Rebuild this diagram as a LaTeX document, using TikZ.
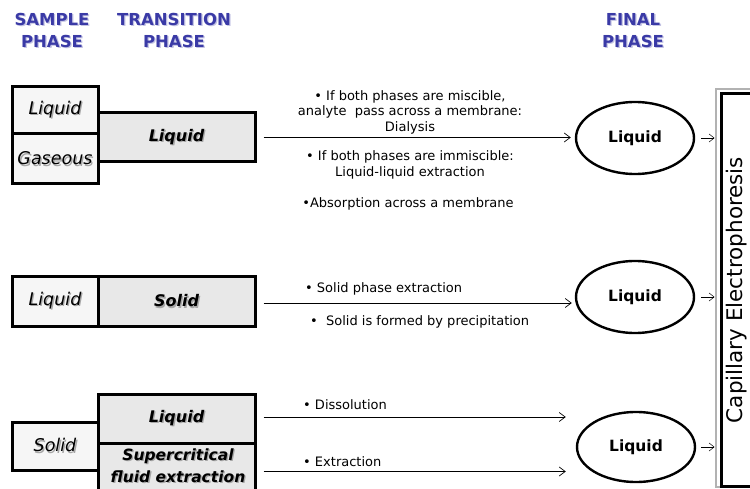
\documentclass[tikz,border=0pt]{standalone}
\usepackage{fontspec}
\setmainfont{DejaVu Sans}
\usetikzlibrary{arrows.meta,shapes.geometric}
\definecolor{headblue}{HTML}{3A3AA6}
\definecolor{samplefill}{HTML}{F6F6F6}
\definecolor{transfill}{HTML}{E8E8E8}
% text with a soft dropped shadow
\newcommand\shadowed[2][black!35]{\leavevmode\rlap{\raisebox{-1.3pt}{\hspace{1.3pt}\textcolor{#1}{#2}}}#2}
\tikzset{
  header/.style={text=headblue, font=\fontsize{16.5}{22}\selectfont\bfseries, align=center},
  samplebox/.style={draw, line width=3pt, fill=samplefill, minimum width=86pt, inner sep=0pt,
    font=\fontsize{17.5}{18}\selectfont\itshape},
  transbox/.style={draw, line width=3pt, fill=transfill, minimum width=157pt, inner sep=0pt,
    font=\fontsize{16}{18}\selectfont\bfseries\itshape},
  final/.style={ellipse, draw, line width=2.4pt, minimum width=118pt, minimum height=72pt, inner sep=0pt,
    font=\fontsize{15.5}{18}\selectfont\bfseries},
  note/.style={font=\fontsize{13}{15.5}\selectfont, align=center, inner sep=0pt},
  link/.style={-{Straight Barb[length=6pt,width=9pt]}, line width=0.7pt},
  feed/.style={-{Straight Barb[length=5pt,width=8pt]}, line width=0.5pt}
}
\begin{document}
\begin{tikzpicture}[x=1pt,y=-1pt]
\useasboundingbox (0,0) rectangle (750,489);
\fill[white] (0,0) rectangle (750,489);

% column headers
\node[header] (hsample) at (52,31) {\shadowed[headblue!30]{SAMPLE}\\\shadowed[headblue!30]{PHASE}};
\node[header] (htrans) at (174,31) {\shadowed[headblue!30]{TRANSITION}\\\shadowed[headblue!30]{PHASE}};
\node[header] (hfinal) at (633,31) {\shadowed[headblue!30]{FINAL}\\\shadowed[headblue!30]{PHASE}};

% first row: liquid / gaseous samples
\node[samplebox, minimum height=48pt] (s1a) at (55,110.5) {\shadowed{Liquid}};
\node[samplebox, minimum height=50pt] (s1b) at (55,159) {\shadowed{Gaseous}};
\node[transbox, minimum height=49pt] (t1) at (176.5,137.5) {\shadowed{Liquid}};
\node[final] (f1) at (635,138) {Liquid};

% second row: liquid sample
\node[samplebox, minimum height=49pt] (s2) at (55,301.5) {\shadowed{Liquid}};
\node[transbox, minimum height=49pt] (t2) at (176.5,301.5) {\shadowed{Solid}};
\node[final] (f2) at (635,297) {Liquid};

% third row: solid sample
\node[samplebox, minimum height=48pt] (s3) at (55,446) {\shadowed{Solid}};
\node[transbox, minimum height=49pt] (t3a) at (176.5,418.5) {\shadowed{Liquid}};
\node[transbox, minimum height=57pt] (t3b) at (176.5,471.5) {};
\node[font=\fontsize{15.5}{22}\selectfont\bfseries\itshape, align=center, inner sep=0pt]
  (t3blabel) at (178,466) {\shadowed{Supercritical}\\\shadowed{fluid extraction}};
\node[final, minimum height=70pt] (f3) at (636,447) {Liquid};

% capillary electrophoresis column
\node[draw=black!30, line width=1.2pt, minimum width=44pt, minimum height=398pt, inner sep=0pt]
  (ceframe) at (738,288) {};
\node[draw, line width=3pt, minimum width=38pt, minimum height=392pt, inner sep=0pt]
  (ce) at (740,290) {};
\node[rotate=90, font=\fontsize{21.5}{24}\selectfont] (celabel) at (737,290) {Capillary Electrophoresis};

% connectors into the final phase
\draw[link, shorten <=7pt, shorten >=4pt] (t1.east) -- (t1.east -| f1.west);
\draw[link, shorten <=7pt, shorten >=3pt] (t2.east) ++(0,1.5) coordinate (t2out) -- (t2out -| f2.west);
\draw[link, shorten <=7pt, shorten >=10pt] (t3a.east) ++(0,-1.5) coordinate (t3aout) -- (t3aout -| f3.west);
\draw[link, shorten <=7pt, shorten >=10pt] (t3b.east) -- (t3b.east -| f3.west);

% connectors into the column
\draw[feed, shorten <=6pt, shorten >=5pt] (f1.east) -- (f1.east -| ce.west);
\draw[feed, shorten <=6pt, shorten >=5pt] (f2.east) -- (f2.east -| ce.west);
\draw[feed, shorten <=5pt, shorten >=5pt] (f3.east) -- (f3.east -| ce.west);

% process notes
\node[note] (n1) at (410,112) {• If both phases are miscible,\\analyte\ \ pass across a membrane:\\Dialysis};
\node[note] (n2) at (410,165) {• If both phases are immiscible:\\Liquid-liquid extraction};
\node[note] (n3) at (408,204) {•Absorption across a membrane};
\node[note, anchor=west] (n4) at (305,289) {• Solid phase extraction};
\node[note, anchor=west] (n5) at (310,322) {•\ \ Solid is formed by precipitation};
\node[note, anchor=west] (n6) at (303,405) {• Dissolution};
\node[note, anchor=west] (n7) at (303,462) {• Extraction};
\end{tikzpicture}
\end{document}
